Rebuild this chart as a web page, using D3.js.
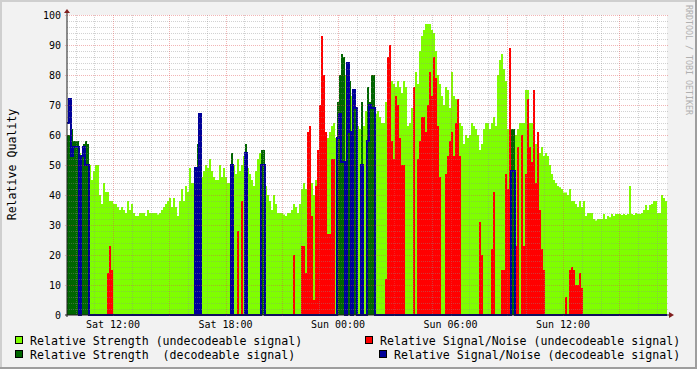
<!DOCTYPE html>
<html>
<head>
<meta charset="utf-8">
<script src="https://cdn.jsdelivr.net/npm/d3@7"></script>
<style>
  html, body { margin: 0; padding: 0; background: #fff; }
  svg { display: block; }
  text { font-family: "DejaVu Sans Mono", monospace; white-space: pre; }
</style>
</head>
<body>
<script>
// one value per 384 s step, Relative Quality 0..100 (0 = no data for that series)
const strengthUndec = [
  0,0,0,0,0,0,54,0,0,0,
  0,50,45,48,50,50,40,37,44,41,
  41,38,38,37,37,36,35,36,35,34,
  38,35,37,34,33,33,34,34,34,33,
  35,34,34,34,34,33.5,34,35,36,37,
  38,39,36,39,36,33,38,42,38,43,
  41,49,44,44,0,0,0,46,48,50,
  49,52,48,46,45,45,50,46,49,46,
  44,44,0,50,47,52,48,50,53,0,
  49,47,45,43,48,52,54,0,0,43,
  40,38,35,40,37,34,34,34,33.5,33,
  34,34,35,37,36,34,37,42,44,42,
  44,44,44,40,45,47,48,52,55,57,
  59,61,63,64,59,0,0,0,0,80,
  0,0,73,0,0,63,62,0,63,68,
  0,0,0,0,67,68,66,64,64,71,
  75,78,78,77,76,78,76,74,78,76,
  63,64,69,67,81,77,88,93,95,97,
  97,97,95,94,88,80,77,73,70,76,
  75,69,81,73,72,70,64,63,57,60,
  59,60,64,63,62,60,55,57,62,64,
  64,62,64,66,63,80,85,87,82,78,
  62,62,0,0,60,62,64,64,64,75,
  75,64,64,64,57,57,54,56,53,54,
  53,50,47,45,44,43,42.6,42,40.8,40.8,
  40,42,38,38,37,36,38,36,38,33,
  34,34,34,32,31.5,32,32,32,33.7,32,
  33,32.6,33.7,33,33.7,33.7,33.7,33.3,33.7,33.3,
  33.7,43,33.7,33.3,34,33.7,33.7,34,35,36.7,
  35,36.7,37,38,38,34,34,40,39,38
];

const strengthDec = [
  60,60,62,58,58,58,0,53,57,58,
  57,0,0,0,0,0,0,0,0,0,
  0,0,0,0,0,0,0,0,0,0,
  0,0,0,0,0,0,0,0,0,0,
  0,0,0,0,0,0,0,0,0,0,
  0,0,0,0,0,0,0,0,0,0,
  0,0,0,0,49,57,56,0,0,0,
  0,0,0,0,0,0,0,0,0,0,
  0,0,54,0,0,0,0,0,0,57,
  0,0,0,0,0,0,0,55,55,0,
  0,0,0,0,0,0,0,0,0,0,
  0,0,0,0,0,0,0,0,0,0,
  0,0,0,0,0,0,0,0,0,0,
  0,0,0,0,0,71,80,87,86,0,
  79,78,0,72,69,0,0,71,0,0,
  76,71,80,80,0,0,0,0,0,0,
  0,0,0,0,0,0,0,0,0,0,
  0,0,0,0,0,0,0,0,0,0,
  0,0,0,0,0,0,0,0,0,0,
  0,0,0,0,0,0,0,0,0,0,
  0,0,0,0,0,0,0,0,0,0,
  0,0,0,0,0,0,0,0,0,0,
  0,0,62,62,0,0,0,0,0,0,
  0,0,0,0,0,0,0,0,0,0,
  0,0,0,0,0,0,0,0,0,0,
  0,0,0,0,0,0,0,0,0,0,
  0,0,0,0,0,0,0,0,0,0,
  0,0,0,0,0,0,0,0,0,0,
  0,0,0,0,0,0,0,0,0,0,
  0,0,0,0,0,0,0,0,0,0
];

const snrUndec = [
  0,0,0,0,0,0,0,0,0,0,
  0,0,0,0,0,0,0,0,0,0,
  14,23,15,0,0,0,0,0,0,0,
  0,0,0,0,0,0,0,0,0,0,
  0,0,0,0,0,0,0,0,0,0,
  0,0,0,0,0,0,0,0,0,0,
  0,0,0,0,0,0,0,0,0,0,
  0,0,0,0,0,0,0,0,0,0,
  0,0,0,0,0,28,0,38,0,0,
  0,0,0,0,0,0,0,0,0,0,
  0,0,0,0,0,0,0,0,0,0,
  0,0,0,20,0,0,0,23,23,14,
  61,63,33,5,43,55,70,93,80,61,
  27,27,52,52,0,0,0,0,0,48,
  0,0,0,0,0,0,0,0,0,0,
  0,0,0,0,0,0,0,0,0,12,
  86,90,58,52,73,70,59,50,50,0,
  0,0,0,76,0,52,58,66,66,61,
  70,81,73,86,79,63,46,0,0,47,
  53,58,61,53,64,72,53,0,0,0,
  0,0,0,0,0,0,31,20,0,0,
  0,0,22,41,0,0,0,15,15,47,
  42,89,0,0,23,56,0,60,23,47,
  72,56,51,75,44,61,35,22,15,0,
  0,0,0,0,0,0,0,0,0,6,
  0,15,16,15,10,10,14,9,0,0,
  0,0,0,0,0,0,0,0,0,0,
  0,0,0,0,0,0,0,0,0,0,
  0,0,0,0,0,0,0,0,0,0,
  0,0,0,0,0,0,0,0,0,0
];

const snrDec = [
  64,72,53,56,56,56,0,53,56,50,
  50,0,0,0,0,0,0,0,0,0,
  0,0,0,0,0,0,0,0,0,0,
  0,0,0,0,0,0,0,0,0,0,
  0,0,0,0,0,0,0,0,0,0,
  0,0,0,0,0,0,0,0,0,0,
  0,0,0,0,49,0,67,0,0,0,
  0,0,0,0,0,0,0,0,0,0,
  0,0,50,0,0,0,0,0,0,54,
  0,0,0,0,0,0,0,50,50,0,
  0,0,0,0,0,0,0,0,0,0,
  0,0,0,0,0,0,0,0,0,0,
  0,0,0,0,0,0,0,0,0,0,
  0,0,0,0,0,59,67,51,51,0,
  84,61,0,75,69,0,0,50,0,0,
  58,70,69,69,0,0,0,0,0,0,
  0,0,0,0,0,0,0,0,0,0,
  0,0,0,0,0,0,0,0,0,0,
  0,0,0,0,0,0,0,0,0,0,
  0,0,0,0,0,0,0,0,0,0,
  0,0,0,0,0,0,0,0,0,0,
  0,0,0,0,0,0,0,0,0,0,
  0,0,48,48,0,0,0,0,0,0,
  0,0,0,0,0,0,0,0,0,0,
  0,0,0,0,0,0,0,0,0,0,
  0,0,0,0,0,0,0,0,0,0,
  0,0,0,0,0,0,0,0,0,0,
  0,0,0,0,0,0,0,0,0,0,
  0,0,0,0,0,0,0,0,0,0,
  0,0,0,0,0,0,0,0,0,0
];

const yTicks = [0, 10, 20, 30, 40, 50, 60, 70, 80, 90, 100];
const legendItems = [
  {label: "Relative Strength (undecodeable signal)", color: "#7fff00", col: 0, row: 0},
  {label: "Relative Signal/Noise (undecodeable signal)", color: "#ff0000", col: 1, row: 0},
  {label: "Relative Strength  (decodeable signal)", color: "#006600", col: 0, row: 1},
  {label: "Relative Signal/Noise (decodeable signal)", color: "#000099", col: 1, row: 1}
];

const W = 697, H = 369;
const x0 = 67, x1 = 667, yTop = 15, yBot = 315;
const start = new Date(2010, 0, 2, 9, 32, 48);
const stepMs = 384 * 1000;
const end = new Date(+start + strengthUndec.length * stepMs);

const svg = d3.select("body").append("svg")
  .attr("width", W)
  .attr("height", H);

// background + shaded border
svg.append("rect").attr("width", W).attr("height", H).attr("fill", "#f2f2f2");
svg.append("path").attr("d", `M0,0H${W}V2H2V${H}H0Z`).attr("fill", "#cfcfcf");
svg.append("path").attr("d", `M${W},${H}H0V${H-2}H${W-2}V0H${W}Z`).attr("fill", "#9e9e9e");

const x = d3.scaleTime().domain([start, end]).range([x0, x1]);
const y = d3.scaleLinear().domain([0, 100]).range([yBot, yTop]);

svg.append("rect")
  .attr("x", x0).attr("y", yTop)
  .attr("width", x1 - x0).attr("height", yBot - yTop)
  .attr("fill", "#fff");

function points(arr) {
  const pts = arr.map((v, i) => ({t: new Date(+start + i * stepMs), v: v}));
  pts.push({t: end, v: arr[arr.length - 1]});
  return pts;
}

const area = d3.area()
  .curve(d3.curveStepAfter)
  .x(d => x(d.t))
  .y0(y(0))
  .y1(d => y(d.v));

const line = d3.line()
  .curve(d3.curveStepAfter)
  .x(d => x(d.t))
  .y(d => y(d.v));

svg.append("path").datum(points(strengthUndec)).attr("d", area).attr("fill", "#7fff00");
svg.append("path").datum(points(snrUndec)).attr("d", area).attr("fill", "#ff0000");
svg.append("path").datum(points(strengthDec)).attr("d", area).attr("fill", "#006600");
svg.append("path").datum(points(snrDec)).attr("d", line)
  .attr("fill", "none").attr("stroke", "#000099").attr("stroke-width", 2);

// grid, drawn over the data like rrdtool does
const grid = svg.append("g").attr("shape-rendering", "crispEdges").attr("stroke-dasharray", "1,1");
const minorGray = "rgba(143,143,143,0.4)";
const majorRed = "rgba(222,79,79,0.42)";

d3.range(2, 101, 2).forEach(v => {
  const major = v % 10 === 0;
  grid.append("line")
    .attr("x1", x0 - (major ? 2 : 0)).attr("x2", x1 + 2)
    .attr("y1", Math.round(y(v)) + 0.5).attr("y2", Math.round(y(v)) + 0.5)
    .attr("stroke", major ? majorRed : minorGray);
});

x.ticks(d3.timeHour.every(1)).forEach(t => {
  const major = t.getHours() % 3 === 0;
  const px = Math.round(x(t)) + 0.5;
  grid.append("line")
    .attr("x1", px).attr("x2", px)
    .attr("y1", yTop).attr("y2", yBot + (major ? 2 : 0))
    .attr("stroke", major ? majorRed : minorGray);
});

// axes
svg.append("line")
  .attr("x1", x0).attr("x2", x0)
  .attr("y1", yBot + 2).attr("y2", yTop - 4)
  .attr("stroke", "#1f1f1f");
svg.append("line")
  .attr("x1", x0 - 2).attr("x2", x1 + 4)
  .attr("y1", yBot).attr("y2", yBot)
  .attr("stroke", "#1f1f1f");
svg.append("path").attr("d", `M${x0-3},${yTop-2}L${x0+3},${yTop-2}L${x0},${yTop-6}Z`).attr("fill", "#801f1f");
svg.append("path").attr("d", `M${x1+2},${yBot-3}L${x1+2},${yBot+3}L${x1+7},${yBot}Z`).attr("fill", "#801f1f");

// y tick labels
svg.append("g").selectAll("text")
  .data(yTicks)
  .join("text")
    .attr("x", 61)
    .attr("y", d => y(d) + 3.5)
    .attr("text-anchor", "end")
    .style("font-size", "10px")
    .attr("fill", "#000")
    .text(d => d);

// x tick labels
svg.append("g").selectAll("text")
  .data(x.ticks(d3.timeHour.every(6)))
  .join("text")
    .attr("x", d => x(d))
    .attr("y", 328)
    .attr("text-anchor", "middle")
    .style("font-size", "10px")
    .attr("fill", "#000")
    .text(d3.timeFormat("%a %H:%M"));

// vertical title
svg.append("text")
  .attr("transform", "translate(15.5,164.5) rotate(-90)")
  .attr("text-anchor", "middle")
  .style("font-size", "11.6px")
  .text("Relative Quality");

// watermark
svg.append("text")
  .attr("transform", "translate(686,5) rotate(90)")
  .style("font-size", "8.3px")
  .attr("fill", "#b0b0b0")
  .text("RRDTOOL / TOBI OETIKER");

// legend
const legend = svg.append("g");
legendItems.forEach(d => {
  const ty = d.row === 0 ? 345 : 359;
  const tx = d.col === 0 ? 30 : (d.row === 0 ? 380 : 394);
  legend.append("rect")
    .attr("x", tx - 14.5).attr("y", ty - 8.5)
    .attr("width", 7).attr("height", 7)
    .attr("fill", d.color).attr("stroke", "#000");
  legend.append("text")
    .attr("x", tx).attr("y", ty)
    .style("font-size", "11.6px")
    .text(d.label);
});
</script>
</body>
</html>
